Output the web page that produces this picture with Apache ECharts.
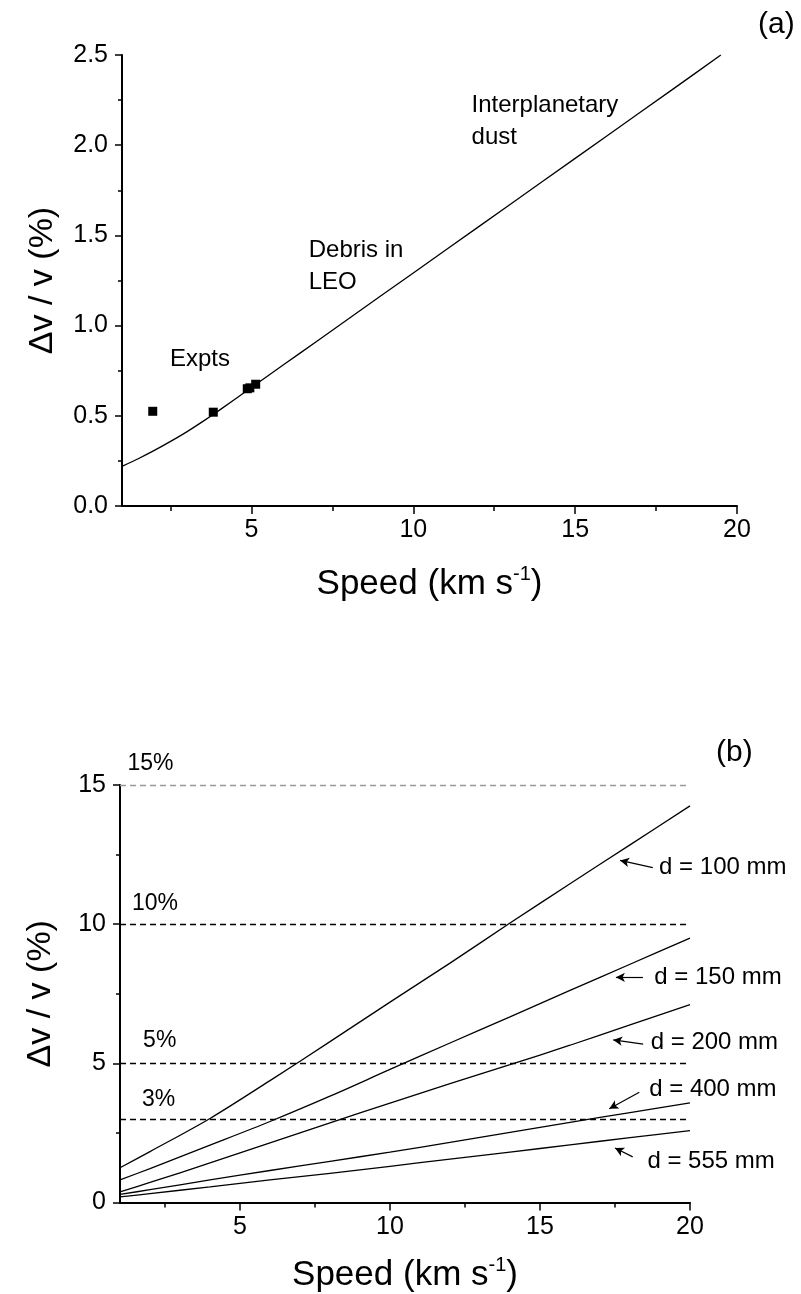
<!DOCTYPE html>
<html><head><meta charset="utf-8">
<script src="https://cdn.jsdelivr.net/npm/echarts@6/dist/echarts.min.js"></script>
<style>html,body{margin:0;padding:0;background:#fff}#c{width:801px;height:1294px}</style>
</head><body><div id="c"></div>
<script>
// ---------- Panel (a) ----------
const curveASpeed = [1, 1.5, 2, 2.5, 3, 3.5, 4, 5, 6, 7, 8, 10, 12, 14, 16, 18, 19.5];
const curveAValue = [0.22, 0.262, 0.308, 0.358, 0.411, 0.469, 0.53, 0.657, 0.784, 0.911, 1.038, 1.292, 1.546, 1.80, 2.054, 2.308, 2.50];
const exptSpeed = [1.95, 3.82, 4.87, 4.95, 5.13];
const exptValue = [0.525, 0.52, 0.65, 0.655, 0.675];
const aLabelText = ['Expts', 'Debris in\nLEO', 'Interplanetary\ndust'];
const aLabelSpeed = [2.48, 6.77, 11.8];
const aLabelValue = [0.815, 1.33, 2.13];
const xMajorTicks = [5, 10, 15, 20];
const xMinorTicks = [2.5, 7.5, 12.5, 17.5];

// ---------- Panel (b) ----------
const bSpeed = [1, 2, 4, 6, 8, 10, 12, 14, 16, 18, 20];
const d100 = [1.25, 1.83, 3.02, 4.38, 5.78, 7.2, 8.6, 10.04, 11.45, 12.85, 14.25];
const d150 = [0.81, 1.22, 2.06, 2.91, 3.82, 4.78, 5.73, 6.67, 7.62, 8.56, 9.5];
const d200 = [0.38, 0.72, 1.42, 2.14, 2.86, 3.57, 4.27, 4.95, 5.65, 6.38, 7.11];
const d400 = [0.29, 0.46, 0.81, 1.15, 1.48, 1.81, 2.16, 2.52, 2.88, 3.23, 3.58];
const d555 = [0.2, 0.32, 0.56, 0.81, 1.05, 1.30, 1.56, 1.81, 2.07, 2.33, 2.58];
const dNames = ['d = 100 mm', 'd = 150 mm', 'd = 200 mm', 'd = 400 mm', 'd = 555 mm'];
const dLabelSpeed = [18.97, 18.81, 18.69, 18.64, 18.58];
const dLabelValue = [12.03, 8.09, 5.75, 4.08, 1.46];
const arrowFromSpeed = [18.76, 18.43, 18.44, 18.31, 18.09];
const arrowFromValue = [12.03, 8.09, 5.69, 3.96, 1.64];
const arrowToSpeed = [17.67, 17.53, 17.44, 17.31, 17.5];
const arrowToValue = [12.29, 8.09, 5.84, 3.37, 1.96];
const refLevels = [15, 10, 5, 3];
const refColors = ['#999999', '#000000', '#000000', '#000000'];
const refLabelText = ['15%', '10%', '5%', '3%'];
const refLabelSpeed = [1.25, 1.4, 1.77, 1.73];
const refLabelValue = [15.75, 10.74, 5.82, 3.69];

const FONT = '"Liberation Sans", Arial, sans-serif';
const zip = (a, b) => a.map((v, i) => [v, b[i]]);

function xAxes(gridIndex) {
  const nameRich = {
    n: { fontSize: 35, fontFamily: FONT, color: '#000' },
    s: { fontSize: 20, fontFamily: FONT, color: '#000', padding: [0, 0, 20, 0] }
  };
  return [{
    type: 'value', gridIndex, min: 1, max: 20,
    name: '{n|Speed (km s}{s|-1}{n|)}', nameLocation: 'middle', nameGap: gridIndex === 0 ? 58 : 53,
    nameTextStyle: { rich: nameRich },
    axisLine: { show: true, onZero: false, lineStyle: { color: '#000', width: 2 } },
    axisTick: { show: true, length: 8, customValues: xMajorTicks, lineStyle: { color: '#000', width: 1.5 } },
    axisLabel: { show: true, customValues: xMajorTicks, margin: 12, fontSize: 25, fontFamily: FONT, color: '#000' },
    splitLine: { show: false }
  }, {
    type: 'value', gridIndex, min: 1, max: 20, position: 'bottom',
    axisLine: { show: false },
    axisTick: { show: true, length: 5, customValues: xMinorTicks, lineStyle: { color: '#000', width: 1.5 } },
    axisLabel: { show: false },
    splitLine: { show: false }
  }];
}

function yAxis(gridIndex, max, interval, fmt) {
  return {
    type: 'value', gridIndex, min: 0, max, interval,
    name: 'Δv / v (%)', nameLocation: 'middle', nameGap: 62, nameRotate: 90,
    nameTextStyle: { fontSize: 34, fontFamily: FONT, color: '#000' },
    axisLine: { show: true, lineStyle: { color: '#000', width: 2 } },
    axisTick: { show: true, length: 7, lineStyle: { color: '#000', width: 1.5 } },
    minorTick: { show: true, splitNumber: 2, length: 4, lineStyle: { color: '#000', width: 1.5 } },
    axisLabel: { margin: 14, fontSize: 25, fontFamily: FONT, color: '#000', formatter: fmt },
    splitLine: { show: false }
  };
}

function labelSeries(xi, yi, texts, xs, ys, fontSize, lineHeight) {
  return {
    type: 'scatter', xAxisIndex: xi, yAxisIndex: yi, symbolSize: 0, silent: true, clip: false,
    itemStyle: { opacity: 1, color: '#000' },
    data: texts.map((t, i) => ({ name: t, value: [xs[i], ys[i]] })),
    label: { show: true, position: 'right', distance: 0, formatter: p => p.name,
      fontSize, lineHeight, fontFamily: FONT, color: '#000', opacity: 1, align: 'left' }
  };
}

const lineStyleCurve = { color: '#000', width: 1.3 };

const option = {
  animation: false,
  backgroundColor: '#fff',
  grid: [
    { left: 122, right: 64, top: 55, height: 451 },
    { left: 120, right: 111, top: 785, height: 419 }
  ],
  xAxis: [...xAxes(0), ...xAxes(1)],
  yAxis: [
    yAxis(0, 2.5, 0.5, v => v.toFixed(1)),
    yAxis(1, 15, 5, v => String(v))
  ],
  graphic: [
    { type: 'text', left: 758, top: 10, style: { text: '(a)', fontSize: 30, fontFamily: FONT, fill: '#000' } },
    { type: 'text', left: 716, top: 738, style: { text: '(b)', fontSize: 30, fontFamily: FONT, fill: '#000' } }
  ],
  series: [
    { type: 'line', xAxisIndex: 0, yAxisIndex: 0, data: zip(curveASpeed, curveAValue), smooth: 0.2,
      showSymbol: false, lineStyle: lineStyleCurve, silent: true },
    { type: 'scatter', xAxisIndex: 0, yAxisIndex: 0, data: zip(exptSpeed, exptValue), symbol: 'rect',
      symbolSize: 9, itemStyle: { color: '#000', opacity: 1 }, silent: true },
    labelSeries(0, 0, aLabelText, aLabelSpeed, aLabelValue, 24, 32),
    ...[d100, d150, d200, d400, d555].map((arr, i) => ({
      type: 'line', name: dNames[i], xAxisIndex: 2, yAxisIndex: 1, data: zip(bSpeed, arr), smooth: 0.3,
      showSymbol: false, lineStyle: lineStyleCurve, silent: true
    })),
    Object.assign(labelSeries(2, 1, refLabelText, refLabelSpeed, refLabelValue, 23, 26), {
      markLine: {
        silent: true, symbol: 'none', label: { show: false },
        data: refLevels.map((v, i) => ({ yAxis: v, lineStyle: { color: refColors[i], type: [6, 4], width: 1.3, opacity: 1 } }))
      }
    }),
    Object.assign(labelSeries(2, 1, dNames, dLabelSpeed, dLabelValue, 24, 28), {
      markLine: {
        silent: true, symbol: ['none', 'arrow'], symbolSize: [7, 9], label: { show: false },
        lineStyle: { color: '#000', type: 'solid', width: 1.2, opacity: 1 },
        data: arrowFromSpeed.map((x, i) => [
          { coord: [x, arrowFromValue[i]] },
          { coord: [arrowToSpeed[i], arrowToValue[i]] }
        ])
      }
    })
  ]
};

const chart = echarts.init(document.getElementById('c'), null, { renderer: 'canvas' });
chart.setOption(option);
</script>
</body></html>
